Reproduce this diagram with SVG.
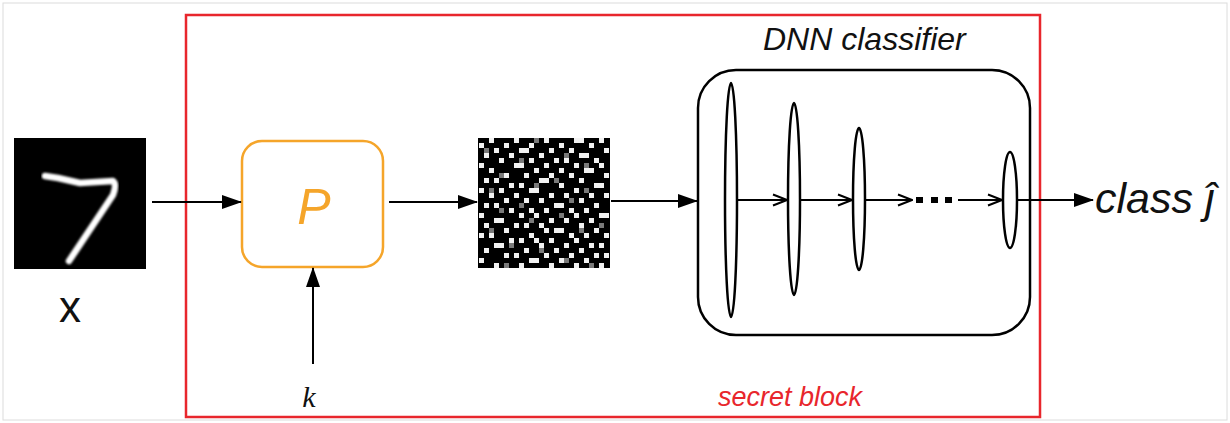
<svg xmlns="http://www.w3.org/2000/svg" width="1230" height="423" viewBox="0 0 1230 423">
  <style>
    .lbl { font-family: "Liberation Sans", Arial, sans-serif; fill: #111; }
    .it { font-style: italic; }
    .edge { stroke: #000; stroke-width: 2; fill: none; }
    .layer { fill: #fff; stroke: #000; stroke-width: 2.5; }
  </style>
  <defs>
    <marker id="head" viewBox="0 0 20 14" refX="19" refY="7" markerWidth="20" markerHeight="14" markerUnits="userSpaceOnUse" orient="auto">
      <path d="M0 0 L20 7 L0 14 Z" fill="#000"/>
    </marker>
    <marker id="chev" viewBox="0 0 16 14" refX="15" refY="7" markerWidth="16" markerHeight="14" markerUnits="userSpaceOnUse" orient="auto">
      <path d="M1 1.5 L15 7 L1 12.5" fill="none" stroke="#000" stroke-width="2"/>
    </marker>
    <filter id="soft" x="-5%" y="-5%" width="110%" height="110%">
      <feGaussianBlur stdDeviation="1"/>
    </filter>
  </defs>

  <rect width="1230" height="423" fill="#fff"/>
  <rect x="3" y="3" width="1224" height="417" fill="none" stroke="#dcdcdc" stroke-width="1"/>

  <!-- secret block frame -->
  <g id="secret-block">
    <rect x="186" y="15" width="854" height="402" fill="none" stroke="#e8262c" stroke-width="2.5"/>
    <text class="lbl it" x="862" y="406" font-size="27" text-anchor="end" style="fill:#e8262c">secret block</text>
  </g>

  <!-- input digit -->
  <g id="input-x">
    <rect x="14" y="138" width="132" height="131" fill="#000"/>
    <path d="M45 176 L58 178 L80 183 L113 181 Q117 184 113 195 L69 261" fill="none" stroke="#fff" stroke-width="6.5" stroke-linecap="round" stroke-linejoin="round" filter="url(#soft)"/>
    <text class="lbl" x="70" y="322" font-size="44" text-anchor="middle">x</text>
  </g>

  <!-- permutation block -->
  <g id="permutation">
    <rect x="242" y="141" width="141" height="126" rx="20" fill="#fff" stroke="#f5a52a" stroke-width="2.5"/>
    <text class="lbl it" x="314" y="224" font-size="50" text-anchor="middle" style="fill:#f5a52a">P</text>
  </g>

  <!-- key -->
  <g id="key">
    <text x="309" y="407" font-size="30" text-anchor="middle" font-family="Liberation Serif, serif" font-style="italic" fill="#111">k</text>
  </g>

  <!-- permuted image -->
  <g id="permuted">
    <rect x="478" y="138" width="132" height="130" fill="#000"/>
    <g transform="translate(479 138) scale(5)">
      <path fill="#f2f2f2" d="
        M2 0h1v1h-1z M7 0h1v1h-1z M13 0h1v1h-1z M19 0h2v1h-2z M24 0h1v1h-1z
        M0 1h1v1h-1z M5 1h1v1h-1z M10 1h1v1h-1z M16 1h1v1h-1z M22 1h1v1h-1z
        M3 2h1v1h-1z M8 2h2v1h-2z M14 2h1v1h-1z M18 2h1v1h-1z M25 2h1v1h-1z
        M1 3h1v1h-1z M6 3h1v1h-1z M12 3h1v1h-1z M20 3h2v1h-2z
        M4 4h1v1h-1z M10 4h1v1h-1z M15 4h1v1h-1z M17 4h1v1h-1z M23 4h1v1h-1z
        M0 5h1v1h-1z M7 5h2v1h-2z M13 5h1v1h-1z M19 5h1v1h-1z M24 5h1v1h-1z
        M2 6h1v1h-1z M11 6h1v1h-1z M16 6h1v1h-1z M21 6h2v1h-2z
        M5 7h1v1h-1z M9 7h1v1h-1z M14 7h1v1h-1z M18 7h1v1h-1z M25 7h1v1h-1z
        M1 8h1v1h-1z M3 8h1v1h-1z M12 8h2v1h-2z M20 8h1v1h-1z
        M6 9h1v1h-1z M8 9h1v1h-1z M16 9h1v1h-1z M23 9h2v1h-2z
        M0 10h1v1h-1z M4 10h1v1h-1z M10 10h2v1h-2z M19 10h1v1h-1z
        M2 11h1v1h-1z M7 11h1v1h-1z M14 11h1v1h-1z M17 11h1v1h-1z M22 11h1v1h-1z M25 11h1v1h-1z
        M5 12h1v1h-1z M9 12h1v1h-1z M12 12h1v1h-1z M20 12h1v1h-1z
        M1 13h1v1h-1z M3 13h1v1h-1z M15 13h2v1h-2z M23 13h1v1h-1z
        M6 14h1v1h-1z M10 14h1v1h-1z M13 14h1v1h-1z M18 14h1v1h-1z M21 14h1v1h-1z
        M0 15h1v1h-1z M8 15h1v1h-1z M11 15h1v1h-1z M19 15h1v1h-1z M24 15h2v1h-2z
        M3 16h2v1h-2z M14 16h1v1h-1z M17 16h1v1h-1z M22 16h1v1h-1z
        M1 17h1v1h-1z M7 17h1v1h-1z M9 17h1v1h-1z M12 17h1v1h-1z M20 17h1v1h-1z
        M5 18h1v1h-1z M13 18h1v1h-1z M15 18h2v1h-2z M23 18h1v1h-1z
        M0 19h1v1h-1z M2 19h1v1h-1z M10 19h1v1h-1z M18 19h1v1h-1z M21 19h1v1h-1z M25 19h1v1h-1z
        M6 20h1v1h-1z M8 20h1v1h-1z M11 20h1v1h-1z M14 20h1v1h-1z M19 20h1v1h-1z
        M3 21h2v1h-2z M12 21h1v1h-1z M17 21h1v1h-1z M22 21h1v1h-1z M24 21h1v1h-1z
        M1 22h1v1h-1z M9 22h1v1h-1z M15 22h1v1h-1z M20 22h1v1h-1z
        M5 23h1v1h-1z M7 23h1v1h-1z M13 23h1v1h-1z M18 23h1v1h-1z M23 23h1v1h-1z M25 23h1v1h-1z
        M0 24h1v1h-1z M10 24h2v1h-2z M16 24h1v1h-1z M21 24h1v1h-1z
        M3 25h1v1h-1z M8 25h1v1h-1z M14 25h1v1h-1z M19 25h1v1h-1z M24 25h1v1h-1z"/>
      <path fill="#7a7a7a" d="
        M11 0h1v1h-1z M1 2h1v1h-1z M17 3h1v1h-1z M8 4h1v1h-1z M21 5h1v1h-1z
        M4 7h1v1h-1z M15 8h1v1h-1z M11 9h1v1h-1z M2 10h1v1h-1z M21 10h1v1h-1z
        M18 12h1v1h-1z M8 13h1v1h-1z M4 14h1v1h-1z M16 15h1v1h-1z M10 16h1v1h-1z
        M24 17h1v1h-1z M2 18h1v1h-1z M20 18h1v1h-1z M6 21h1v1h-1z M12 22h1v1h-1z
        M17 24h1v1h-1z M5 25h1v1h-1z M22 25h1v1h-1z"/>
    </g>
  </g>

  <!-- classifier -->
  <g id="dnn-classifier">
    <text class="lbl it" x="763" y="50" font-size="32">DNN classifier</text>
    <rect x="698" y="70" width="332" height="265" rx="38" fill="#fff" stroke="#000" stroke-width="2.5"/>
    <ellipse class="layer" cx="731" cy="200" rx="6" ry="117"/>
    <ellipse class="layer" cx="794" cy="199" rx="6" ry="96"/>
    <ellipse class="layer" cx="859" cy="199" rx="6" ry="71"/>
    <ellipse class="layer" cx="1010" cy="200" rx="7" ry="48"/>
    <rect x="916" y="197" width="7" height="6" fill="#000"/>
    <rect x="931" y="197" width="7" height="6" fill="#000"/>
    <rect x="945" y="197" width="7" height="6" fill="#000"/>
  </g>

  <!-- output label -->
  <g id="output">
    <text class="lbl it" x="1095" y="213" font-size="43">class ĵ</text>
  </g>

  <!-- connectors -->
  <g id="connectors">
    <line class="edge" x1="152" y1="202" x2="241" y2="202" marker-end="url(#head)"/>
    <line class="edge" x1="313" y1="364" x2="313" y2="268" marker-end="url(#head)"/>
    <line class="edge" x1="389" y1="202" x2="477" y2="202" marker-end="url(#head)"/>
    <line class="edge" x1="611" y1="201" x2="697" y2="201" marker-end="url(#head)"/>
    <line class="edge" x1="738" y1="200" x2="787" y2="200" marker-end="url(#chev)"/>
    <line class="edge" x1="801" y1="200" x2="852" y2="200" marker-end="url(#chev)"/>
    <line class="edge" x1="866" y1="200" x2="912" y2="200" marker-end="url(#chev)"/>
    <line class="edge" x1="958" y1="200" x2="1002" y2="200" marker-end="url(#chev)"/>
    <line class="edge" x1="1017" y1="200" x2="1093" y2="200" marker-end="url(#head)"/>
  </g>
</svg>
